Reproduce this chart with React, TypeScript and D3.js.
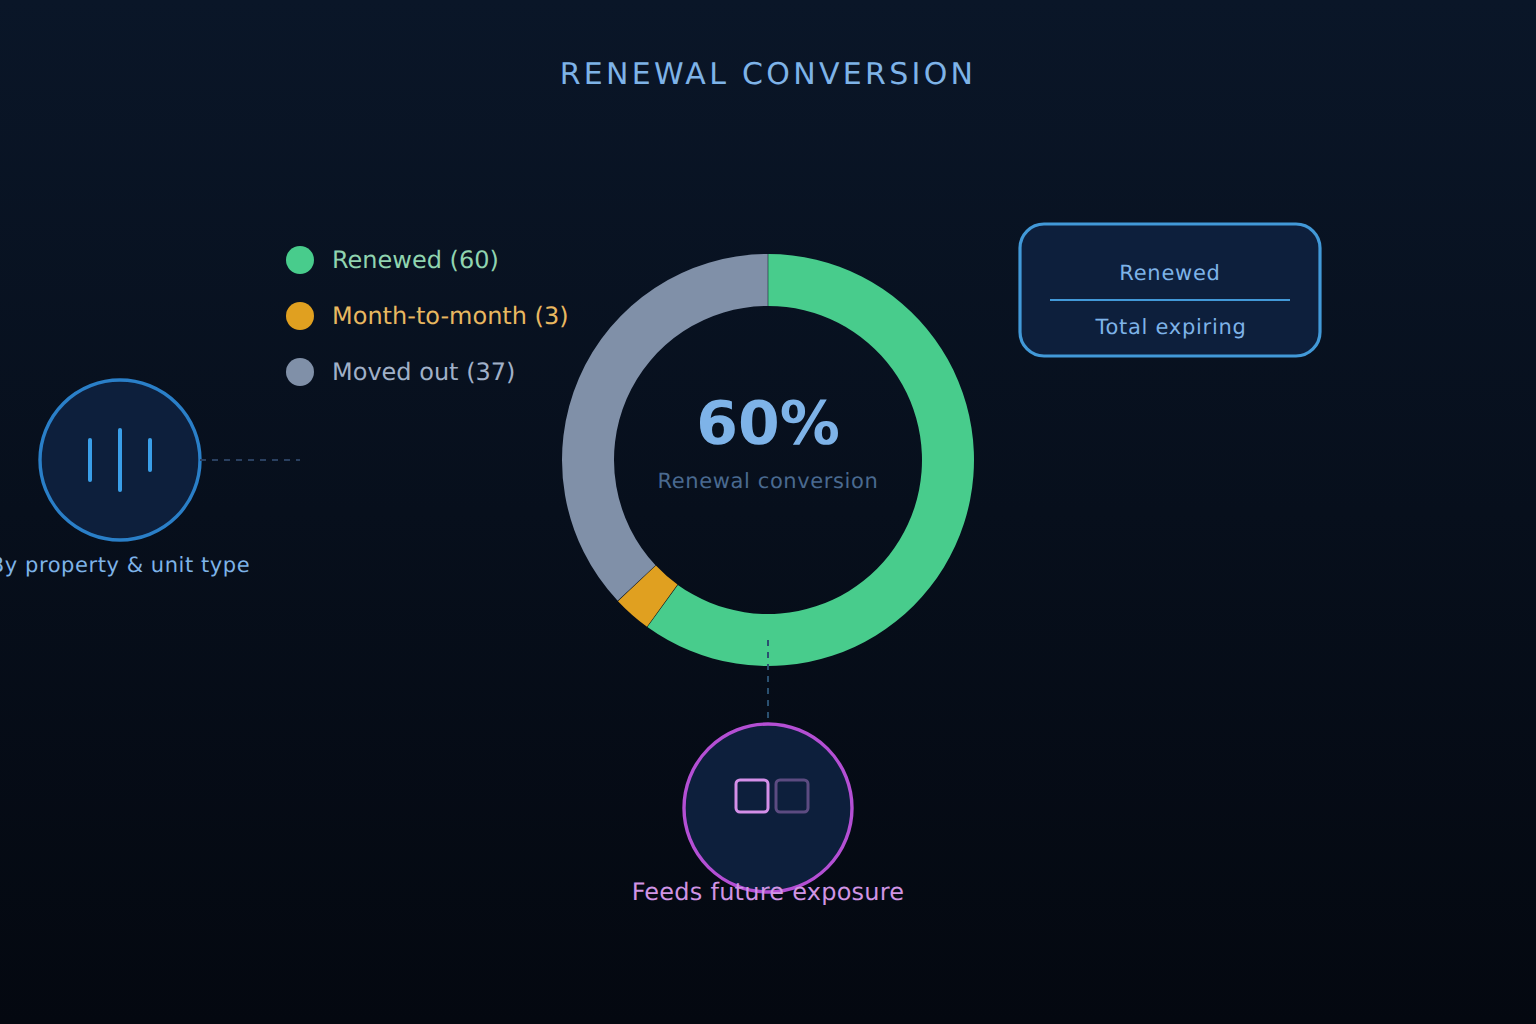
import React from "react";
import * as d3 from "d3";

const categories = ["Renewed", "Month-to-month", "Moved out"];
const values = [60, 3, 37];
const sliceColors = ["#48cc8c", "#e0a020", "#8090a8"];
const legendTextColors = ["#90d4b0", "#e8b860", "#a0b0c8"];
const FONT = "'DejaVu Sans', sans-serif";

const W = 768;
const H = 512;
const cx = 384;
const cy = 230;

export default function App() {
  const pie = d3.pie<number>().sort(null).value((d) => d).padAngle(0.002);
  const arc = d3.arc<d3.PieArcDatum<number>>().innerRadius(77).outerRadius(103);
  const arcs = pie(values);
  const legendY = d3.scalePoint<string>().domain(categories).range([130, 186]);
  return (
    <svg
      width={W * 2}
      height={H * 2}
      viewBox={`0 0 ${W} ${H}`}
      style={{ position: "absolute", left: 0, top: 0, display: "block" }}
      fontFamily={FONT}
      textRendering="geometricPrecision"
    >
      <defs>
        <linearGradient id="bg" x1="0" y1="0" x2="0" y2="1">
          <stop offset="0" stopColor="#0a1628" />
          <stop offset="1" stopColor="#040810" />
        </linearGradient>
      </defs>
      <rect width={W} height={H} fill="url(#bg)" />
      <text x={384} y={42} textAnchor="middle" fontSize={15} letterSpacing={1.65} fill="#7eb3e8">
        RENEWAL CONVERSION
      </text>

      <g transform={`translate(${cx},${cy})`}>
        {arcs.map((a, i) => (
          <path key={categories[i]} d={arc(a) ?? ""} fill={sliceColors[i]} />
        ))}
      </g>
      <text x={cx} y={222} textAnchor="middle" fontSize={30} fontWeight={700} fill="#7eb3e8">
        60%
      </text>
      <text x={cx} y={244} textAnchor="middle" fontSize={10.5} letterSpacing={0.3} fill="#4a6a90">
        Renewal conversion
      </text>

      {categories.map((c, i) => (
        <g key={c}>
          <circle cx={150} cy={legendY(c)} r={7} fill={sliceColors[i]} />
          <text x={166} y={(legendY(c) ?? 0) + 4} fontSize={12} fill={legendTextColors[i]}>
            {`${c} (${values[i]})`}
          </text>
        </g>
      ))}

      <rect x={510} y={112} width={150} height={66} rx={12} fill="#0d1f3c" stroke="#4299d8" strokeWidth={1.6} />
      <text x={585} y={140} textAnchor="middle" fontSize={10.5} letterSpacing={0.36} fill="#7eb3e8">
        Renewed
      </text>
      <line x1={525} x2={645} y1={150} y2={150} stroke="#4299d8" strokeWidth={1} />
      <text x={585.5} y={167} textAnchor="middle" fontSize={10.5} letterSpacing={0.36} fill="#7eb3e8">
        Total expiring
      </text>

      <circle cx={60} cy={230} r={40} fill="#0d1f3c" stroke="#2a7fc8" strokeWidth={1.7} />
      <line x1={45} x2={45} y1={220} y2={240} stroke="#3a9fe8" strokeWidth={2} strokeLinecap="round" />
      <line x1={60} x2={60} y1={215} y2={245} stroke="#3a9fe8" strokeWidth={2} strokeLinecap="round" />
      <line x1={75} x2={75} y1={220} y2={235} stroke="#3a9fe8" strokeWidth={2} strokeLinecap="round" />
      <line x1={100} x2={150} y1={230} y2={230} stroke="#2a4060" strokeWidth={1} strokeDasharray="3 3" />
      <text x={60} y={286} textAnchor="middle" fontSize={10.5} letterSpacing={0.28} fill="#7eb3e8">
        By property &amp; unit type
      </text>

      <line x1={384} x2={384} y1={320} y2={360} stroke="#2a5070" strokeWidth={1} strokeDasharray="3 3" />
      <circle cx={384} cy={404} r={42} fill="#0d1f3c" stroke="#b44fd4" strokeWidth={1.7} />
      <rect x={368} y={390} width={16} height={16} rx={2} fill="none" stroke="#d48fe8" strokeWidth={1.5} />
      <rect x={388} y={390} width={16} height={16} rx={2} fill="none" stroke="#d48fe8" strokeWidth={1.5} opacity={0.4} />
      <text x={cx} y={450} textAnchor="middle" fontSize={12} letterSpacing={0.12} fill="#d094e4">
        Feeds future exposure
      </text>
    </svg>
  );
}
